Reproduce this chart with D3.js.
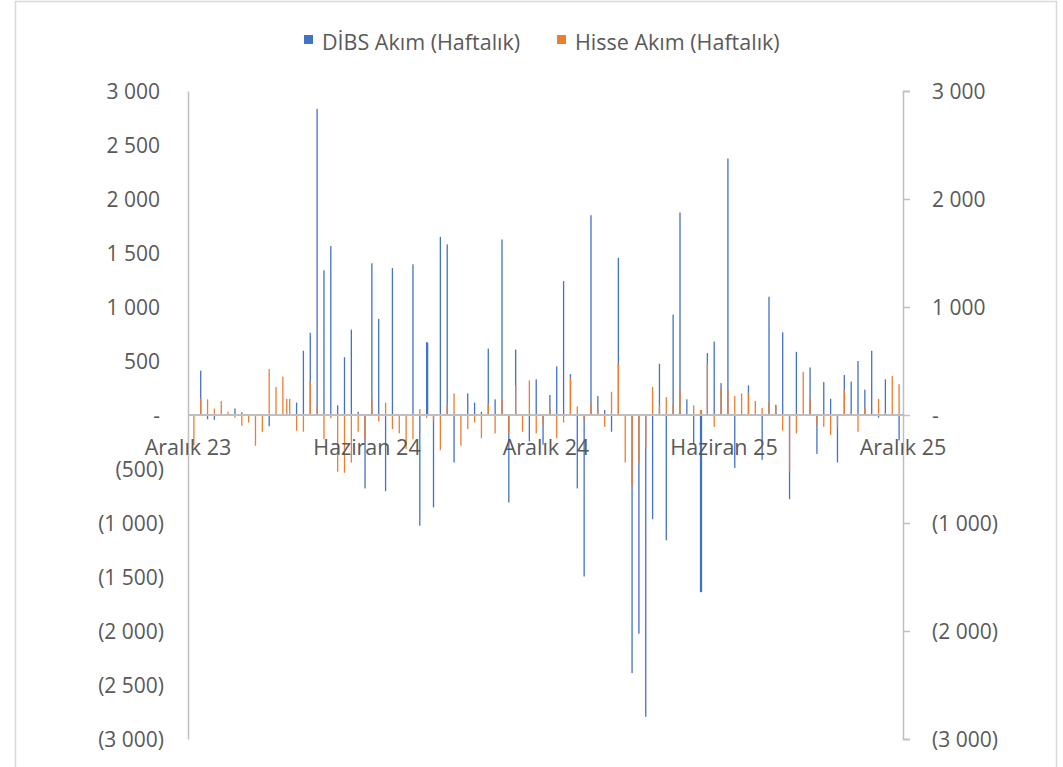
<!DOCTYPE html>
<html>
<head>
<meta charset="utf-8">
<script src="https://cdn.jsdelivr.net/npm/d3@7"></script>
<style>
  body { margin: 0; background: #ffffff; }
  text { font-family: "Open Sans", sans-serif; fill: #595959; }
</style>
</head>
<body>
<script>

// Weekly dates (Thursdays, with a few extra data days)
var dates = [
  "2023-12-07","2023-12-14","2023-12-21","2023-12-28","2024-01-04","2024-01-11","2024-01-18","2024-01-25",
  "2024-02-01","2024-02-08","2024-02-15","2024-02-22","2024-02-29","2024-03-07","2024-03-11","2024-03-14",
  "2024-03-21","2024-03-28","2024-04-04","2024-04-11","2024-04-18","2024-04-25","2024-05-02","2024-05-09",
  "2024-05-16","2024-05-23","2024-05-30","2024-06-06","2024-06-13","2024-06-20","2024-06-27","2024-07-04",
  "2024-07-11","2024-07-18","2024-07-25","2024-08-01","2024-08-02","2024-08-08","2024-08-15","2024-08-22",
  "2024-08-29","2024-09-05","2024-09-12","2024-09-19","2024-09-26","2024-10-03","2024-10-10","2024-10-17",
  "2024-10-24","2024-10-31","2024-11-07","2024-11-14","2024-11-21","2024-11-28","2024-12-05","2024-12-12",
  "2024-12-19","2024-12-26","2025-01-02","2025-01-09","2025-01-16","2025-01-23","2025-01-30","2025-02-06",
  "2025-02-13","2025-02-20","2025-02-27","2025-03-06","2025-03-13","2025-03-20","2025-03-27","2025-04-03",
  "2025-04-10","2025-04-17","2025-04-24","2025-05-01","2025-05-08","2025-05-09","2025-05-15","2025-05-22",
  "2025-05-29","2025-06-05","2025-06-12","2025-06-19","2025-06-26","2025-07-03","2025-07-10","2025-07-17",
  "2025-07-24","2025-07-31","2025-08-07","2025-08-14","2025-08-21","2025-08-28","2025-09-04","2025-09-11",
  "2025-09-18","2025-09-25","2025-10-02","2025-10-09","2025-10-16","2025-10-23","2025-10-30","2025-11-06",
  "2025-11-13","2025-11-20","2025-11-27"
];

// DIBS weekly flow
var dibs = [
  0, 410, -40, -45, 0, 0, 60, 25,
  0, 0, 0, -105, 0, 0, 0, 0,
  115, 595, 760, 2835, 1340, 1565, 90, 535,
  790, 30, -680, 1405, 890, -705, 1360, 0,
  0, 1395, -1025, 675, 670, -855, 1650, 1580,
  -440, 0, 200, 115, 30, 615, 145, 1625,
  -810, 605, 0, -245, 330, -275, 185, 450,
  1240, 378, -680, -1495, 1850, 175, 45, -155,
  1455, 0, -2390, -2025, -2795, -965, 475, -1160,
  930, 1875, 145, -270, -1640, -1640, 575, 680,
  295, 2375, -490, 0, 275, 0, -415, 1095,
  95, 765, -780, 585, 0, 440, -360, 305,
  150, -440, 370, 310, 500, 235, 595, -25,
  330, 0, -235
];

// Hisse (equity) weekly flow
var hisse = [
  -280, 155, 145, 60, 130, 30, -25, -100,
  -70, -285, -155, 425, 260, 355, 150, 150,
  -145, -155, 310, 80, -225, -30, -525, -535,
  -440, -155, -235, 155, -60, 115, -130, -170,
  -315, -225, 55, -27, 0, -60, -325, 90,
  200, -285, -130, -70, -215, 100, -170, 140,
  -170, 275, -155, 320, -170, -95, 70, -215,
  -70, 350, 80, -45, 105, 70, -110, 215,
  475, -440, -650, -440, -300, 260, 90, 165,
  105, 235, 0, 90, 45, 45, 475, -110,
  255, 235, 175, 200, 205, 130, 65, 115,
  80, -145, -525, -170, 400, 155, -90, -110,
  -185, -115, 235, 30, -155, 70, 0, 150,
  20, 360, 285
];

var seriesNames = ["DİBS Akım (Haftalık)", "Hisse Akım (Haftalık)"];
var seriesColors = ["#4472C4", "#ED7D31"];

var xTickDates = ["2023-12-01", "2024-06-01", "2024-12-01", "2025-06-01", "2025-12-01"];
var xTickLabels = ["Aralık 23", "Haziran 24", "Aralık 24", "Haziran 25", "Aralık 25"];

var leftTicks = [-3000, -2500, -2000, -1500, -1000, -500, 0, 500, 1000, 1500, 2000, 2500, 3000];
var rightTicks = [-3000, -2000, -1000, 0, 1000, 2000, 3000];

var parseDate = d3.timeParse("%Y-%m-%d");

var width = 1063;
var height = 767;
var plotLeft = 188, plotRight = 903, plotTop = 91, plotBottom = 739;
var axisColor = "#BFBFBF";
var fontSize = "21px";

var svg = d3.select("body")
  .append("svg")
  .attr("width", width)
  .attr("height", height);

// outer chart border
svg.append("rect")
  .attr("x", 15.5)
  .attr("y", 1.5)
  .attr("width", 1041)
  .attr("height", 800)
  .attr("fill", "none")
  .attr("stroke", "#D9D9D9")
  .attr("stroke-width", 1.5);

var x = d3.scaleTime()
  .domain([parseDate("2023-12-01"), parseDate("2025-12-01")])
  .range([plotLeft, plotRight]);

var y = d3.scaleLinear()
  .domain([-3000, 3000])
  .range([plotBottom, plotTop]);

// accounting style number format: 3 000 / (3 000) / -
function fmt(v) {
  if (v === 0) return "-";
  var s = d3.format(",")(Math.abs(v)).replace(/,/g, " ");
  return v < 0 ? "(" + s + ")" : s;
}

var rows = dates.map(function(d, i) {
  return { date: parseDate(d), dibs: dibs[i], hisse: hisse[i] };
});

var barW = 1.3;

// blue bars first, orange drawn on top (overlapping series)
var keys = ["dibs", "hisse"];
keys.forEach(function(k, si) {
  svg.append("g")
    .selectAll("rect")
    .data(rows)
    .enter()
    .append("rect")
    .attr("x", function(d) { return x(d.date) - barW / 2; })
    .attr("y", function(d) { return y(Math.max(0, d[k])); })
    .attr("width", barW)
    .attr("height", function(d) { return Math.abs(y(d[k]) - y(0)); })
    .attr("fill", seriesColors[si]);
});

// left axis
var leftAxis = svg.append("g")
  .attr("transform", "translate(" + plotLeft + ",0)")
  .call(d3.axisLeft(y).tickValues(leftTicks).tickSize(0).tickFormat(fmt));
leftAxis.select(".domain").attr("stroke", axisColor).attr("stroke-width", 1.5);
leftAxis.selectAll("text")
  .attr("x", function(d) { return d < 0 ? -24 : -28; })
  .attr("dy", "0.35em")
  .style("font-size", fontSize)
  .style("font-family", "'Open Sans', sans-serif")
  .attr("fill", "#595959");

// right axis
var rightAxis = svg.append("g")
  .attr("transform", "translate(" + plotRight + ",0)")
  .call(d3.axisRight(y).tickValues(rightTicks).tickSize(7).tickPadding(22).tickFormat(fmt));
rightAxis.select(".domain").attr("stroke", axisColor).attr("stroke-width", 1.5);
rightAxis.selectAll("line").attr("stroke", axisColor).attr("stroke-width", 1.5);
rightAxis.selectAll("text")
  .attr("dy", "0.35em")
  .style("font-size", fontSize)
  .style("font-family", "'Open Sans', sans-serif")
  .attr("fill", "#595959");

// zero line (category axis)
svg.append("line")
  .attr("x1", plotLeft)
  .attr("x2", plotRight)
  .attr("y1", y(0))
  .attr("y2", y(0))
  .attr("stroke", axisColor)
  .attr("stroke-width", 2);

// date labels sitting under the zero line
svg.selectAll("text.xlab")
  .data(xTickDates)
  .enter()
  .append("text")
  .attr("class", "xlab")
  .attr("x", function(d) { return x(parseDate(d)); })
  .attr("y", y(0) + 40)
  .attr("text-anchor", "middle")
  .style("font-size", "21.5px")
  .text(function(d, i) { return xTickLabels[i]; });

// legend
var legendX = [304, 557];
seriesNames.forEach(function(name, i) {
  svg.append("rect")
    .attr("x", legendX[i])
    .attr("y", 35)
    .attr("width", 9)
    .attr("height", 9)
    .attr("fill", seriesColors[i]);
  svg.append("text")
    .attr("x", legendX[i] + 18)
    .attr("y", 50)
    .style("font-size", "21.5px")
    .text(name);
});

</script>
</body>
</html>
